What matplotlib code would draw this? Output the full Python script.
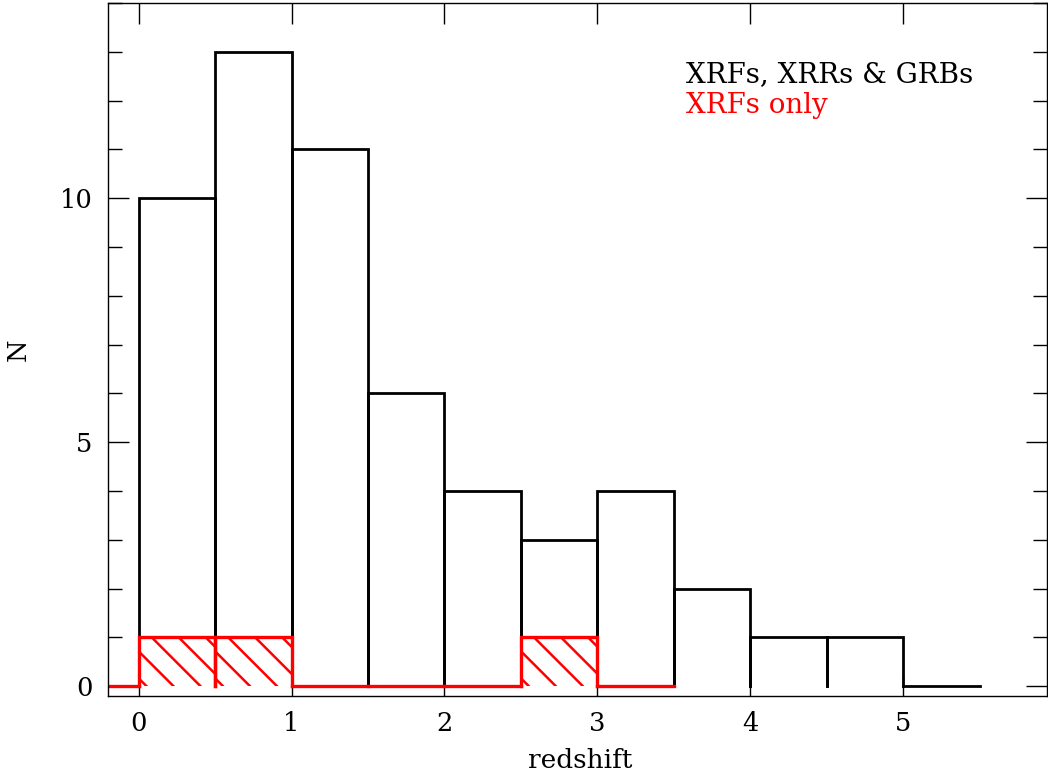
import matplotlib
matplotlib.use("Agg")
import matplotlib.pyplot as plt
from matplotlib.patches import Rectangle
from matplotlib.ticker import MultipleLocator
import numpy as np

# -----------
# Chart data
# -----------

# all bursts (XRFs, XRRs & GRBs), bins of 0.5 in redshift
all_edges = [0.0, 0.5, 1.0, 1.5, 2.0, 2.5, 3.0, 3.5, 4.0, 4.5, 5.0, 5.5]
all_counts = [10, 13, 11, 6, 4, 3, 4, 2, 1, 1, 0]

# XRFs only
xrf_edges = [-0.5, 0.0, 0.5, 1.0, 1.5, 2.0, 2.5, 3.0, 3.5]
xrf_counts = [0, 1, 1, 0, 0, 0, 1, 0]

x_ticks = [0, 1, 2, 3, 4, 5]
y_ticks = [0, 5, 10]

FONT = "DejaVu Serif"
plt.rcParams["font.family"] = FONT
plt.rcParams["font.size"] = 18.5

W, H = 1048, 774
fig = plt.figure(figsize=(W / 100, H / 100), dpi=100)
ax = fig.add_axes([108 / W, (H - 696) / H, (1047 - 108) / W, (696 - 3) / H])
ax.set_xlim(-0.2, 5.94)
ax.set_ylim(-0.2, 14.0)


def draw_bins(edges, counts, color, lw):
    for left, right, h in zip(edges[:-1], edges[1:], counts):
        ax.plot([left, left, right, right], [0, h, h, 0], color=color,
                lw=lw, solid_joinstyle="miter", clip_on=True)


def hatch_bins(edges, counts, color, spacing_px=27, lw=1.8):
    # diagonal "\\" hatch, spacing in screen pixels
    inv = ax.transData.inverted()
    for left, right, h in zip(edges[:-1], edges[1:], counts):
        if h <= 0:
            continue
        rect = Rectangle((left, 0), right - left, h, transform=ax.transData,
                         fill=False, edgecolor="none")
        ax.add_patch(rect)
        (x0, y0), (x1, y1) = ax.transData.transform([(left, 0), (right, h)])
        c = x0 + y0 + 8
        while c < x1 + y1 + spacing_px:
            pts = np.array([(c - y0 + 100, y0 - 100), (c - y1 - 100, y1 + 100)])
            d = inv.transform(pts)
            ln, = ax.plot(d[:, 0], d[:, 1], color=color, lw=lw)
            ln.set_clip_path(rect)
            c += spacing_px


draw_bins(all_edges, all_counts, "black", 2.0)
hatch_bins(xrf_edges, xrf_counts, "red")
draw_bins(xrf_edges, xrf_counts, "red", 2.4)

ax.set_xticks(x_ticks)
ax.set_yticks(y_ticks)
ax.yaxis.set_minor_locator(MultipleLocator(1))
ax.tick_params(which="major", direction="in", top=True, right=True,
               length=15, width=1)
ax.tick_params(which="minor", direction="in", top=True, right=True,
               length=10, width=1)
ax.tick_params(axis="x", pad=11)
ax.tick_params(axis="y", pad=11)
for s in ax.spines.values():
    s.set_linewidth(1)

ax.text(3.58, 12.38, "XRFs, XRRs & GRBs", color="black", fontsize=20)
ax.text(3.58, 11.74, "XRFs only", color="red", fontsize=20)

fig.text(580 / W, 1 - 768 / H, "redshift", ha="center", va="baseline",
         fontsize=19)
fig.text(18 / W, 1 - 350 / H, "N", ha="center", va="center", rotation=90)

fig.savefig("out.png", dpi=100)
